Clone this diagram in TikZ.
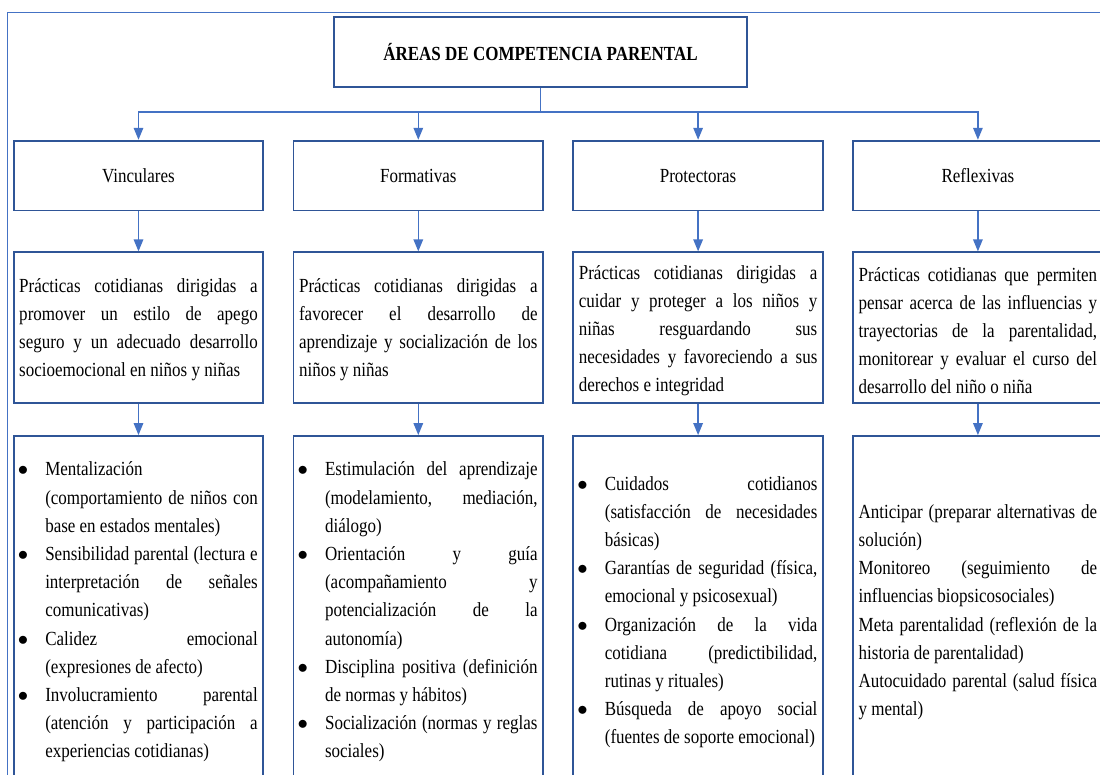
\documentclass[tikz,border=0pt]{standalone}
\usepackage{fontspec}
\setmainfont{Liberation Serif}[FakeStretch=0.85]
\usetikzlibrary{arrows.meta}
\definecolor{lineblue}{HTML}{4472C4}
\definecolor{boxblue}{HTML}{2F5597}
\newcommand\bul{\par\noindent\llap{\makebox[26pt][l]{\hspace*{-1.5pt}$\bullet$}}}
\newcommand\plainpar{\par\noindent}
\newcommand\tailkern[1]{\par\kern#1\relax}
\begin{document}
\begin{tikzpicture}[x=1pt,y=-1pt,
  box/.style={draw=boxblue, line width=1.8pt, rectangle, inner ysep=0pt, inner xsep=5.5pt,
    minimum width=249.5pt},
  titlebox/.style={box, minimum width=413pt, minimum height=70pt, font=\fontsize{20pt}{24pt}\selectfont\bfseries},
  headbox/.style={box, minimum height=69.8pt, font=\fontsize{20pt}{24pt}\selectfont},
  descbox/.style={box, minimum height=150.4pt, text width=238.5pt, align=justify,
    font=\fontsize{20pt}{28pt}\selectfont},
  listbox/.style={box, minimum height=348pt, text width=238.5pt, align=justify,
    font=\fontsize{20pt}{28.2pt}\selectfont},
  conn/.style={draw=lineblue, line width=1.5pt},
  arr/.style={conn, -{Triangle[width=9.5pt,length=12pt]}},
  frame/.style={draw=lineblue, line width=1.5pt}
]
\useasboundingbox (0,0) rectangle (1100,775);
\clip (0,0) rectangle (1100,775);

% outer frame
\draw[frame] (7.7,820) -- (7.7,12.3) -- (1130,12.3);

% title
\node[titlebox] (title) at (540.5,52.3) {ÁREAS DE COMPETENCIA PARENTAL};

% level 1
\node[headbox] (h1) at (138.5,175.6) {Vinculares};
\node[headbox] (h2) at (418.3,175.6) {Formativas};
\node[headbox] (h3) at (698.1,175.6) {Protectoras};
\node[headbox] (h4) at (977.9,175.6) {Reflexivas};

% level 2
\node[descbox] (d1) at (138.5,327.5) {Prácticas cotidianas dirigidas a\linebreak promover un estilo de apego\linebreak seguro y un adecuado desarrollo\linebreak socioemocional en niños y niñas\tailkern{-4pt}};
\node[descbox] (d2) at (418.3,327.5) {Prácticas cotidianas dirigidas a\linebreak favorecer el desarrollo de\linebreak aprendizaje y socialización de los\linebreak niños y niñas\tailkern{-4pt}};
\node[descbox] (d3) at (698.1,327.5) {Prácticas cotidianas dirigidas a\linebreak cuidar y proteger a los niños y\linebreak niñas resguardando sus\linebreak necesidades y favoreciendo a sus\linebreak derechos e integridad\tailkern{-6pt}};
\node[descbox] (d4) at (977.9,327.5) {Prácticas cotidianas que permiten\linebreak pensar acerca de las influencias y\linebreak trayectorias de la parentalidad,\linebreak monitorear y evaluar el curso del\linebreak desarrollo del niño o niña\tailkern{-6pt}};

% level 3
\node[listbox] (l1) at (138.5,610) {\leftskip=26pt
\bul Mentalización\newline (comportamiento de niños con\linebreak base en estados mentales)
\bul Sensibilidad parental (lectura e\linebreak interpretación de señales\linebreak comunicativas)
\bul Calidez emocional\linebreak (expresiones de afecto)
\bul Involucramiento parental\linebreak (atención y participación a\linebreak experiencias cotidianas)\tailkern{10pt}};
\node[listbox] (l2) at (418.3,610) {\leftskip=26pt
\bul Estimulación del aprendizaje\linebreak (modelamiento, mediación,\linebreak diálogo)
\bul Orientación y guía\linebreak (acompañamiento y\linebreak potencialización de la\linebreak autonomía)
\bul Disciplina positiva (definición\linebreak de normas y hábitos)
\bul Socialización (normas y reglas\linebreak sociales)\tailkern{10pt}};
\node[listbox] (l3) at (698.1,610) {\leftskip=26pt
\bul Cuidados cotidianos\linebreak (satisfacción de necesidades\linebreak básicas)
\bul Garantías de seguridad (física,\linebreak emocional y psicosexual)
\bul Organización de la vida\linebreak cotidiana (predictibilidad,\linebreak rutinas y rituales)
\bul Búsqueda de apoyo social\linebreak (fuentes de soporte emocional)\tailkern{10pt}};
\node[listbox] (l4) at (977.9,610) {\plainpar Anticipar (preparar alternativas de\linebreak solución)
\plainpar Monitoreo (seguimiento de\linebreak influencias biopsicosociales)
\plainpar Meta parentalidad (reflexión de la\linebreak historia de parentalidad)
\plainpar Autocuidado parental (salud física\linebreak y mental)\tailkern{10pt}};

% connectors
\coordinate (bus) at (540.5,112);
\draw[conn] (title.south) -- (bus);
\foreach \n in {h1,h2,h3,h4}{
  \draw[arr] (bus) -| (\n.north);
}
\draw[arr] (h1.south) -- (d1.north);
\draw[arr] (h2.south) -- (d2.north);
\draw[arr] (h3.south) -- (d3.north);
\draw[arr] (h4.south) -- (d4.north);
\draw[arr] (d1.south) -- (l1.north);
\draw[arr] (d2.south) -- (l2.north);
\draw[arr] (d3.south) -- (l3.north);
\draw[arr] (d4.south) -- (l4.north);
\end{tikzpicture}
\end{document}
